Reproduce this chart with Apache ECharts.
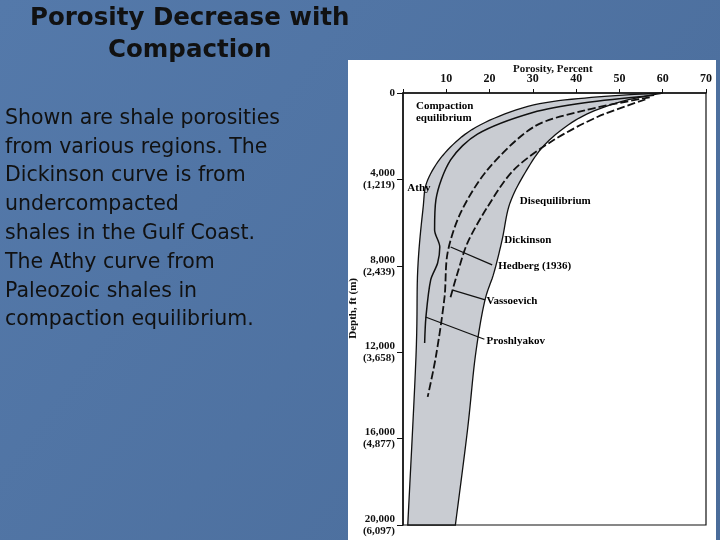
<!DOCTYPE html>
<html>
<head>
<meta charset="utf-8">
<script src="https://cdn.jsdelivr.net/npm/echarts@6/dist/echarts.min.js"></script>
<style>
  html, body { margin: 0; padding: 0; }
  #chart { width: 720px; height: 540px; }
</style>
</head>
<body>
<div id="chart"></div>
<script>
// [porosity %, depth ft]
var bandLeft = [[60, 0], [45, 180], [30.2, 555], [17.8, 1480], [10.3, 2640], [5.7, 4030], [4.6, 5400], [3.4, 8200], [3.0, 12200], [1.1, 20000]];
var bandRight = [[60, 0], [50, 420], [40.7, 1160], [33.2, 2300], [28.6, 3560], [24.7, 5100], [22.9, 6800], [21, 8330], [18.8, 9700], [16.7, 12200], [14.9, 15600], [12.1, 20000]];
var athy = [[58, 100], [42, 450], [30, 900], [17.2, 1900], [11, 3100], [7.6, 4950], [7.3, 6340], [8.5, 7130], [8, 7870], [6.4, 8650], [5.3, 10370], [5.0, 11570]];
var hedberg = [[57, 200], [42, 800], [30.2, 1570], [19.5, 3560], [13.3, 5550], [10.3, 7400], [9.6, 9440], [7.6, 12200], [5.7, 14070]];
var dickinson = [[56, 300], [45, 1100], [34.8, 2180], [25.6, 3560], [19.5, 5280], [14.9, 6940], [12.6, 8330], [10.8, 9580]];
var leaders = [
  [[11, 7130], [20.6, 7960]],
  [[11.5, 9130], [19, 9580]],
  [[5.2, 10370], [18.8, 11400]]
];
var curveLabels = [
  ['Compaction\nequilibrium', 3, 900],
  ['Athy', 1, 4420],
  ['Disequilibrium', 27, 5030],
  ['Dickinson', 23.4, 6800],
  ['Hedberg (1936)', 22, 8030],
  ['Vassoevich', 19.3, 9650],
  ['Proshlyakov', 19.3, 11500]
];
var depthTicks = { 0: '0', 4000: '4,000\n(1,219)', 8000: '8,000\n(2,439)', 12000: '12,000\n(3,658)', 16000: '16,000\n(4,877)', 20000: '20,000\n(6,097)' };
var bodyText = ['Shown are shale porosities', 'from various regions. The', 'Dickinson curve is from', 'undercompacted', 'shales in the Gulf Coast.', 'The Athy curve from', 'Paleozoic shales in', 'compaction equilibrium.'];

var chart = echarts.init(document.getElementById('chart'));
var serif = 'Liberation Serif';
// smooth a point list (Catmull-Rom) so the band edges are curved like the lines
function smoothPts(pts) {
  var out = [];
  for (var i = 0; i < pts.length - 1; i++) {
    var p0 = pts[Math.max(i - 1, 0)], p1 = pts[i], p2 = pts[i + 1], p3 = pts[Math.min(i + 2, pts.length - 1)];
    for (var t = 0; t < 1; t += 0.1) {
      var t2 = t * t, t3 = t2 * t;
      out.push([0, 1].map(function (k) {
        return 0.5 * (2 * p1[k] + (-p0[k] + p2[k]) * t + (2 * p0[k] - 5 * p1[k] + 4 * p2[k] - p3[k]) * t2 + (-p0[k] + 3 * p1[k] - 3 * p2[k] + p3[k]) * t3);
      }));
    }
  }
  out.push(pts[pts.length - 1]);
  return out;
}
var series = [
  {
    type: 'custom', silent: true, z: 1,
    renderItem: function (params, api) {
      var l = smoothPts(bandLeft.map(function (p) { return api.coord(p); }));
      var r = smoothPts(bandRight.map(function (p) { return api.coord(p); }));
      return { type: 'polygon', shape: { points: l.concat(r.reverse()) }, style: { fill: '#c9ccd2', stroke: '#111', lineWidth: 1.3 } };
    },
    data: [0]
  },
  { type: 'line', data: athy, smooth: 0.3, showSymbol: false, lineStyle: { color: '#111', width: 1.5 }, z: 3 },
  { type: 'line', data: hedberg, smooth: 0.3, showSymbol: false, lineStyle: { color: '#111', width: 1.8, type: [8, 3] }, z: 3 },
  { type: 'line', data: dickinson, smooth: 0.3, showSymbol: false, lineStyle: { color: '#111', width: 1.8, type: [8, 3] }, z: 3 },
  {
    type: 'scatter', symbolSize: 0, z: 4, itemStyle: { opacity: 1 },
    data: curveLabels.map(function (c) { return { value: [c[1], c[2]], name: c[0] }; }),
    label: { show: true, position: 'right', distance: 0, formatter: '{b}', color: '#000', opacity: 1, fontFamily: serif, fontSize: 11, fontWeight: 'bold', lineHeight: 12 }
  }
];
leaders.forEach(function (l) {
  series.push({ type: 'line', data: l, showSymbol: false, lineStyle: { color: '#111', width: 1.3 }, z: 3 });
});

var graphics = [
  { type: 'rect', shape: { x: 348, y: 60, width: 368, height: 480 }, style: { fill: '#ffffff' }, z: -1 },
  { type: 'text', left: 30, top: 6, style: { text: 'Porosity Decrease with', font: 'bold 24.5px "DejaVu Sans"', fill: '#111' } },
  { type: 'text', left: 108, top: 38, style: { text: 'Compaction', font: 'bold 24.5px "DejaVu Sans"', fill: '#111' } },
  { type: 'text', left: 513, top: 64, style: { text: 'Porosity, Percent', font: 'bold 11px "Liberation Serif"', fill: '#111' } },
  { type: 'text', left: 348, top: 278, rotation: Math.PI / 2, style: { text: 'Depth, ft (m)', font: 'bold 11px "Liberation Serif"', fill: '#111' } }
];
bodyText.forEach(function (t, i) {
  graphics.push({ type: 'text', left: 5, top: 108 + i * 28.8, style: { text: t, font: '20.5px "DejaVu Sans"', fill: '#111' } });
});

chart.setOption({
  backgroundColor: new echarts.graphic.LinearGradient(0, 0, 1, 1, [
    { offset: 0, color: '#5479aa' }, { offset: 1, color: '#4a6c9a' }
  ]),
  animation: false,
  graphic: graphics,
  grid: { left: 403, top: 93, width: 303, height: 432, show: true, borderColor: '#111', borderWidth: 1.2 },
  xAxis: {
    type: 'value', position: 'top', min: 0, max: 70, interval: 10,
    axisLine: { lineStyle: { color: '#111', width: 1.5 } },
    axisTick: { inside: false, length: 4, lineStyle: { color: '#111' } },
    axisLabel: { color: '#111', fontFamily: serif, fontSize: 12, fontWeight: 'bold', formatter: function (v) { return v === 0 ? '' : v; } },
    splitLine: { show: false }
  },
  yAxis: {
    type: 'value', inverse: true, min: 0, max: 20000, interval: 4000,
    axisLine: { lineStyle: { color: '#111', width: 1.5 } },
    axisTick: { length: 6, lineStyle: { color: '#111' } },
    axisLabel: { color: '#111', fontFamily: serif, fontSize: 11, fontWeight: 'bold', lineHeight: 12, margin: 8, formatter: function (v) { return depthTicks[v]; } },
    splitLine: { show: false }
  },
  series: series
});
</script>
</body>
</html>
